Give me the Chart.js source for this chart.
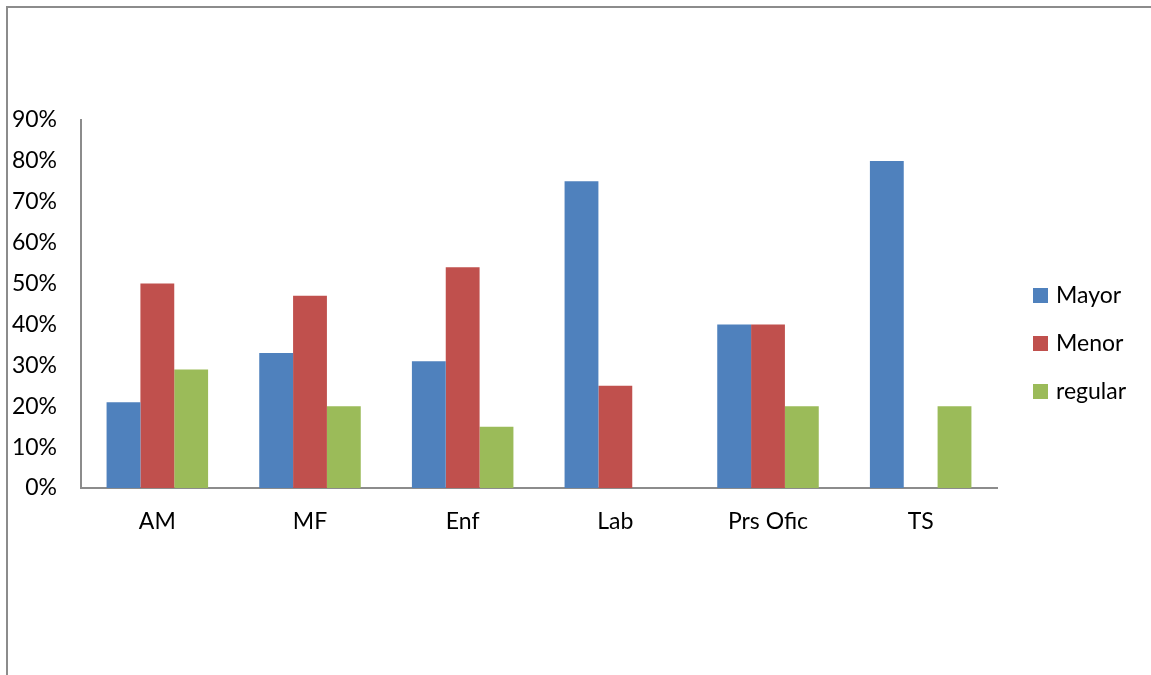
<!DOCTYPE html>
<html>
<head>
<meta charset="utf-8">
<script src="https://cdn.jsdelivr.net/npm/chart.js@4.4.1/dist/chart.umd.min.js"></script>
<style>
  html, body { margin: 0; padding: 0; background: #fff; overflow: hidden; }
  #frame { position: absolute; left: 6px; top: 6px; width: 1200px; height: 700px;
           border-left: 2px solid #8c8c8c; border-top: 2px solid #8c8c8c; }
  #wrap { position: absolute; left: 0; top: 0; width: 1151px; height: 675px; }
</style>
</head>
<body>
<div id="frame"></div>
<div id="wrap"><canvas id="c" width="1151" height="675"></canvas></div>
<script>
const categories = ["AM", "MF", "Enf", "Lab", "Prs Ofic", "TS"];
const mayor   = [21, 33, 31, 75, 40, 80];
const menor   = [50, 47, 54, 25, 40, 0];
const regular = [29, 20, 15, 0, 20, 20];
const seriesNames = ["Mayor", "Menor", "regular"];
const yTicks = [0, 10, 20, 30, 40, 50, 60, 70, 80, 90];

const FONT = "Lato, 'Open Sans', sans-serif";

const legendPlugin = {
  id: 'sideLegend',
  afterDraw(chart) {
    const ctx = chart.ctx;
    ctx.save();
    ctx.font = "23px " + FONT;
    ctx.textBaseline = "middle";
    ctx.textAlign = "left";
    chart.data.datasets.forEach((ds, i) => {
      const yc = 295 + i * 48;
      ctx.fillStyle = ds.backgroundColor;
      ctx.fillRect(1033, yc - 7, 15, 15);
      ctx.fillStyle = "#000";
      ctx.fillText(ds.label, 1056, yc + 1);
    });
    ctx.restore();
  }
};

new Chart(document.getElementById('c'), {
  type: 'bar',
  data: {
    labels: categories,
    datasets: [
      { label: seriesNames[0], data: mayor, backgroundColor: '#4F81BD' },
      { label: seriesNames[1], data: menor, backgroundColor: '#C0504D' },
      { label: seriesNames[2], data: regular, backgroundColor: '#9BBB59' }
    ]
  },
  options: {
    responsive: false,
    animation: false,
    layout: { padding: { left: 0, right: 154, top: 120, bottom: 0 } },
    datasets: { bar: { categoryPercentage: 0.665, barPercentage: 1.0, borderWidth: 0 } },
    plugins: { legend: { display: false }, tooltip: { enabled: false } },
    scales: {
      x: {
        grid: { display: false, drawTicks: false },
        border: { display: true, color: '#8c8c8c', width: 2 },
        ticks: { color: '#000', font: { family: FONT, size: 23 }, padding: 20, maxRotation: 0 },
        afterFit(s) { s.height = 187; }
      },
      y: {
        min: 0, max: 90,
        afterBuildTicks(s) { s.ticks = yTicks.map(v => ({ value: v })); },
        grid: { display: false, drawTicks: false },
        border: { display: true, color: '#8c8c8c', width: 2 },
        ticks: { color: '#000', font: { family: FONT, size: 23 }, padding: 24,
                 callback: v => v + '%' },
        afterFit(s) { s.width = 81; }
      }
    }
  },
  plugins: [legendPlugin]
});
</script>
</body>
</html>
